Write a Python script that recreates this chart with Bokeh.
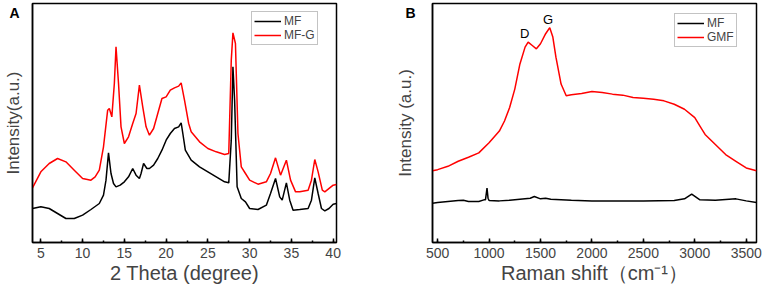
from bokeh.plotting import figure
from bokeh.layouts import row
from bokeh.models import Range1d, SingleIntervalTicker, FixedTicker, Legend, LegendItem
from bokeh.embed import file_html
from bokeh.resources import INLINE

# ---- Panel A: XRD ----
xrd_theta_mf = [4, 5, 6, 7, 8, 9, 10, 11, 12, 12.5, 12.8, 13.1, 13.4, 13.7, 14, 14.5, 15, 15.5, 16, 16.4,
                16.8, 17, 17.3, 17.7, 18, 18.5, 19, 19.5, 20, 20.5, 21, 21.5, 21.8, 22, 22.3, 23, 24, 25, 26,
                27, 27.5, 27.8, 28, 28.2, 28.5, 29, 29.5, 30, 31, 32, 32.5, 33.1, 33.6, 33.9, 34.4, 34.8,
                35.2, 36, 37, 37.4, 37.8, 38.2, 38.6, 39, 39.5, 40, 40.4]
xrd_int_mf = [102, 107, 102, 87, 72, 72, 82, 99, 117, 142, 187, 269, 207, 177, 167, 172, 182, 197, 222, 202,
              192, 207, 237, 222, 222, 232, 252, 277, 307, 327, 342, 347, 359, 327, 277, 247, 227, 212, 197,
              182, 179, 307, 527, 427, 167, 132, 122, 102, 99, 112, 147, 192, 137, 127, 179, 127,
              97, 99, 102, 127, 194, 147, 102, 95, 102, 115, 117]

xrd_theta_mfg = [4, 5, 6, 7, 8, 9, 10, 11, 11.5, 12, 12.5, 13, 13.2, 13.5, 13.8, 14, 14.3, 14.6, 15, 15.5,
                 16, 16.4, 16.8, 17.2, 17.6, 18, 18.5, 19, 19.5, 20, 20.5, 21, 21.5, 21.8, 22.2, 22.7, 23,
                 23.5, 24, 25, 26, 27, 27.5, 27.8, 28, 28.3, 28.6, 29, 29.5, 30, 31, 32, 32.5, 33.1, 33.7,
                 34.4, 34.9, 35.5, 36, 37, 37.4, 37.8, 38.2, 38.7, 39, 40, 40.4]
xrd_int_mfg = [164, 212, 237, 252, 242, 217, 192, 187, 197, 217, 287, 397, 402, 377, 477, 587, 477, 347, 297, 317,
               357, 387, 472, 407, 347, 322, 342, 387, 432, 437, 457, 464, 469, 479, 427, 357, 332,
               317, 302, 282, 272, 264, 267, 547, 629, 597, 327, 227, 207, 187, 175, 182, 207, 254, 202,
               247, 187, 152, 152, 157, 187, 249, 212, 157, 152, 172, 174]

# ---- Panel B: Raman ----
raman_shift_mf = [450, 500, 600, 700, 750, 800, 900, 950, 965, 980, 990, 1000, 1100, 1200, 1300, 1400, 1440,
                  1500, 1550, 1600, 1800, 2000, 2500, 2800, 2900, 2970, 3050, 3200, 3400, 3500, 3600]
raman_int_mf = [122, 124, 127, 130, 131, 127, 127, 132, 132, 167, 137, 130, 129, 131, 134, 137, 142,
                135, 137, 134, 131, 129, 129, 130, 135, 149, 132, 131, 135, 129, 124]

raman_shift_gmf = [450, 500, 600, 700, 800, 900, 1000, 1100, 1150, 1200, 1250, 1300, 1350, 1380, 1420, 1460,
                   1500, 1550, 1590, 1620, 1650, 1700, 1750, 1800, 1900, 2000, 2100, 2200, 2300, 2400, 2500,
                   2600, 2700, 2800, 2900, 3000, 3050, 3100, 3200, 3300, 3400, 3500, 3600]
raman_int_gmf = [219, 222, 232, 247, 259, 272, 302, 337, 367, 407, 462, 537, 587, 602, 592, 582,
                 597, 627, 645, 617, 557, 477, 442, 445, 449, 455, 452, 447, 444, 437, 435,
                 432, 427, 417, 402, 377, 352, 327, 297, 267, 247, 227, 219]

peak_labels = ["D", "G"]
peak_x = [1346, 1574]
peak_y = [627, 669]

panel_tags = ["A", "B"]
panel_tag_y = 689

FONT = "Liberation Sans"


def style(p, interval, tag, tag_standoff, label_standoff):
    p.xgrid.visible = False
    p.ygrid.visible = False
    p.outline_line_color = "black"
    p.outline_line_width = 1.5
    p.outline_line_alpha = 1
    p.background_fill_color = "white"
    p.border_fill_color = "white"
    ax = p.xaxis[0]
    ax.ticker = SingleIntervalTicker(interval=interval, num_minor_ticks=2)
    ax.major_tick_in = 4
    ax.major_tick_out = 0
    ax.minor_tick_in = 2
    ax.minor_tick_out = 0
    ax.major_tick_line_width = 1.5
    ax.minor_tick_line_width = 1.5
    ax.axis_line_width = 1.5
    ax.major_label_text_font = FONT
    ax.major_label_text_font_size = "14px"
    ax.major_label_standoff = 5
    ax.axis_label_text_font = FONT
    ax.axis_label_text_font_size = "20px"
    ax.axis_label_text_font_style = "normal"
    ax.axis_label_standoff = 1
    ay = p.yaxis[0]
    # panel tag ("A"/"B") drawn as the single tick label of the intensity axis
    ay.ticker = FixedTicker(ticks=[panel_tag_y])
    ay.major_label_overrides = {panel_tag_y: tag}
    ay.major_label_text_font = FONT
    ay.major_label_text_font_size = "14px"
    ay.major_label_text_font_style = "bold"
    ay.major_label_text_color = "black"
    ay.major_label_standoff = tag_standoff
    ay.major_tick_in = 0
    ay.major_tick_out = 0
    ay.minor_tick_in = 0
    ay.minor_tick_out = 0
    ay.major_tick_line_color = None
    ay.minor_tick_line_color = None
    ay.axis_line_width = 1.5
    ay.axis_label_text_font = FONT
    ay.axis_label_text_font_size = "17px"
    ay.axis_label_text_font_style = "normal"
    ay.axis_label_standoff = label_standoff


def legend(p, items, loc):
    lg = Legend(items=items, location=loc)
    lg.border_line_color = "#888888"
    lg.border_line_width = 1
    lg.background_fill_color = "white"
    lg.label_text_font = FONT
    lg.label_text_font_size = "12px"
    lg.glyph_width = 27
    lg.glyph_height = 12
    lg.label_height = 12
    lg.label_standoff = 3
    lg.spacing = 0
    lg.padding = 2
    lg.margin = 0
    p.add_layout(lg)


p1 = figure(width=385, height=287, x_range=Range1d(4, 40.4), y_range=Range1d(0, 717),
            output_backend="svg", toolbar_location=None,
            min_border_left=32, min_border_right=49, min_border_top=3, min_border_bottom=45,
            x_axis_label="2 Theta (degree)", y_axis_label="Intensity(a.u.)")
style(p1, 5, panel_tags[0], 13, -17)
r1 = p1.line(xrd_theta_mf, xrd_int_mf, line_color="black", line_width=1.5)
r2 = p1.line(xrd_theta_mfg, xrd_int_mfg, line_color="#ff0000", line_width=1.5)
legend(p1, [LegendItem(label="MF", renderers=[r1]), LegendItem(label="MF-G", renderers=[r2])], (219, 197))

p2 = figure(width=380, height=287, x_range=Range1d(450, 3600), y_range=Range1d(5, 717),
            output_backend="svg", toolbar_location=None,
            min_border_left=47, min_border_right=9, min_border_top=3, min_border_bottom=45,
            x_axis_label="Raman shift（cm⁻¹）", y_axis_label="Intensity (a.u.)")
style(p2, 500, panel_tags[1], 17, -13)
r3 = p2.line(raman_shift_mf, raman_int_mf, line_color="black", line_width=1.5)
r4 = p2.line(raman_shift_gmf, raman_int_gmf, line_color="#ff0000", line_width=1.5)
legend(p2, [LegendItem(label="MF", renderers=[r3]), LegendItem(label="GMF", renderers=[r4])], (242, 195))
p2.text(x=peak_x, y=peak_y, text=peak_labels, text_font_size="13px", text_align="center",
        text_baseline="middle", text_color="black", text_font={"value": FONT})

layout = row(p1, p2, spacing=0)
open("out.html", "w").write(file_html(layout, INLINE))
